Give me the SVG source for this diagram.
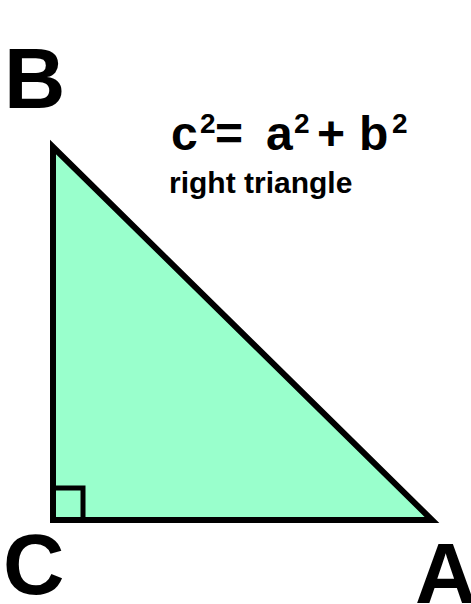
<svg xmlns="http://www.w3.org/2000/svg" width="471" height="604" viewBox="0 0 471 604">
<style>
text{font-family:"Liberation Sans",Arial,sans-serif;font-weight:bold;fill:#000}
.big{font-size:85px}
.eq{font-size:48px}
.sup{font-size:28px}
</style>
<rect width="471" height="604" fill="#fff"/>
<g id="triangle">
<polygon points="53,147 53,520 432,520" fill="#99FFCC" stroke="#000" stroke-width="6" stroke-linejoin="miter" stroke-miterlimit="10"/>
<rect x="53" y="488" width="30" height="32" fill="none" stroke="#000" stroke-width="5"/>
</g>
<g id="labels">
<text class="big" x="4" y="108">B</text>
<text class="big" x="3" y="594">C</text>
<text class="big" x="415" y="603">A</text>
</g>
<g id="formula">
<text class="eq" x="171" y="150">c</text>
<text class="sup" x="200" y="133">2</text>
<text class="eq" x="215" y="150">=</text>
<text class="eq" x="266" y="150">a</text>
<text class="sup" x="294" y="133">2</text>
<text class="eq" x="317" y="150">+</text>
<text class="eq" x="359" y="150">b</text>
<text class="sup" x="392" y="133">2</text>
<text x="169" y="193" font-size="30">right triangle</text>
</g>
</svg>
